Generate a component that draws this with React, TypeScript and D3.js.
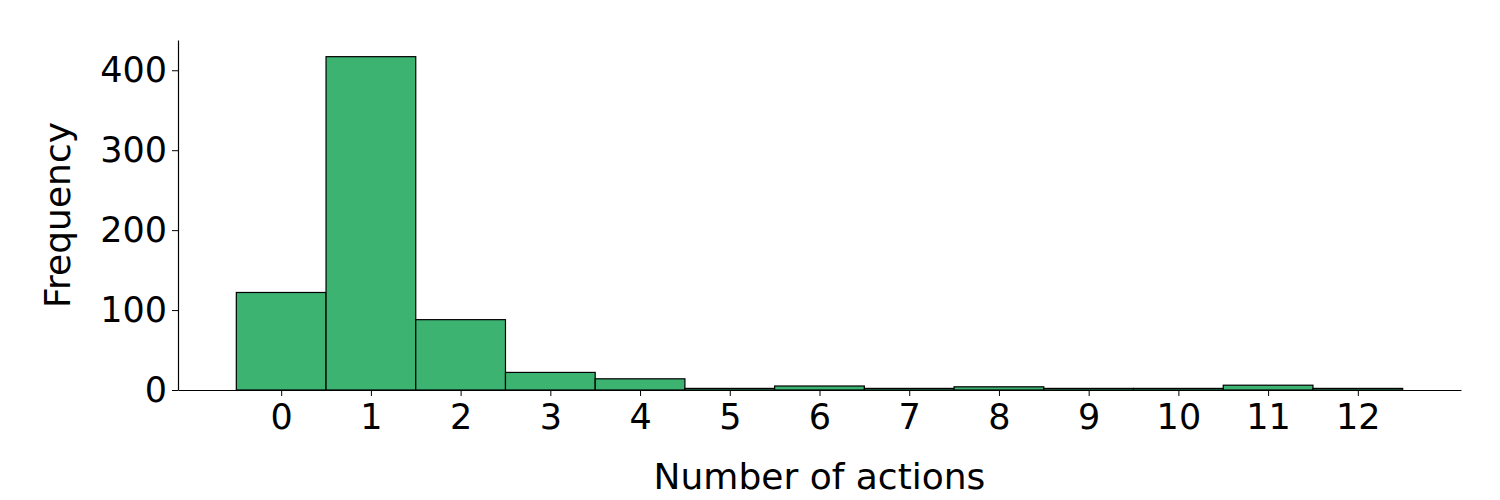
import React, { useEffect, useRef } from "react";
import * as d3 from "d3";

// histogram of number of actions, one bin per integer
const actions = [0, 1, 2, 3, 4, 5, 6, 7, 8, 9, 10, 11, 12];
const frequency = [122, 417, 88, 22, 14, 2, 5, 2, 4, 2, 2, 6, 2];
const yTicks = [0, 100, 200, 300, 400];

const App = () => {
  const svgRef = useRef<SVGSVGElement>(null);

  useEffect(() => {
    const width = 1500;
    const height = 500;
    const left = 178;
    const right = 1461;
    const top = 40;
    const bottom = 390;
    const font = "DejaVu Sans, sans-serif";

    const svg = d3.select(svgRef.current);
    svg.selectAll("*").remove();
    svg.attr("width", width).attr("height", height);

    const lo = -0.5;
    const hi = actions.length - 0.5;
    const pad = (hi - lo) * 0.05;
    const x = d3.scaleLinear().domain([lo - pad, hi + pad]).range([left, right]);
    const y = d3
      .scaleLinear()
      .domain([0, (d3.max(frequency) as number) * 1.05])
      .range([bottom, top]);

    svg
      .selectAll("rect.bar")
      .data(actions)
      .enter()
      .append("rect")
      .attr("class", "bar")
      .attr("x", (d) => x(d - 0.5))
      .attr("width", (d) => x(d + 0.5) - x(d - 0.5))
      .attr("y", (d, i) => y(frequency[i]))
      .attr("height", (d, i) => bottom - y(frequency[i]))
      .attr("fill", "#3cb371")
      .attr("stroke", "#000")
      .attr("stroke-width", 1.2);

    const xAxis = svg
      .append("g")
      .attr("transform", `translate(0,${bottom})`)
      .call(
        d3
          .axisBottom(x)
          .tickValues(actions)
          .tickFormat((d) => String(d))
          .tickSizeInner(6)
          .tickSizeOuter(0)
          .tickPadding(8)
      );
    xAxis.select(".domain").attr("stroke-width", 1.2);
    xAxis.selectAll("text").attr("font-size", 35).attr("font-family", font).attr("fill", "#000");

    const yAxis = svg
      .append("g")
      .attr("transform", `translate(${left},0)`)
      .call(
        d3
          .axisLeft(y)
          .tickValues(yTicks)
          .tickSizeInner(6)
          .tickSizeOuter(0)
          .tickPadding(5)
      );
    yAxis.select(".domain").attr("stroke-width", 1.2);
    yAxis.selectAll("text").attr("font-size", 35).attr("font-family", font).attr("fill", "#000");

    svg
      .append("text")
      .attr("x", (left + right) / 2)
      .attr("y", 489)
      .attr("text-anchor", "middle")
      .attr("font-size", 36)
      .attr("font-family", font)
      .text("Number of actions");

    svg
      .append("text")
      .attr("transform", `translate(70,${(top + bottom) / 2}) rotate(-90)`)
      .attr("text-anchor", "middle")
      .attr("font-size", 36)
      .attr("font-family", font)
      .text("Frequency");
  }, []);

  return <svg ref={svgRef} style={{ display: "block", position: "absolute", left: 0, top: 0 }}></svg>;
};

export default App;
